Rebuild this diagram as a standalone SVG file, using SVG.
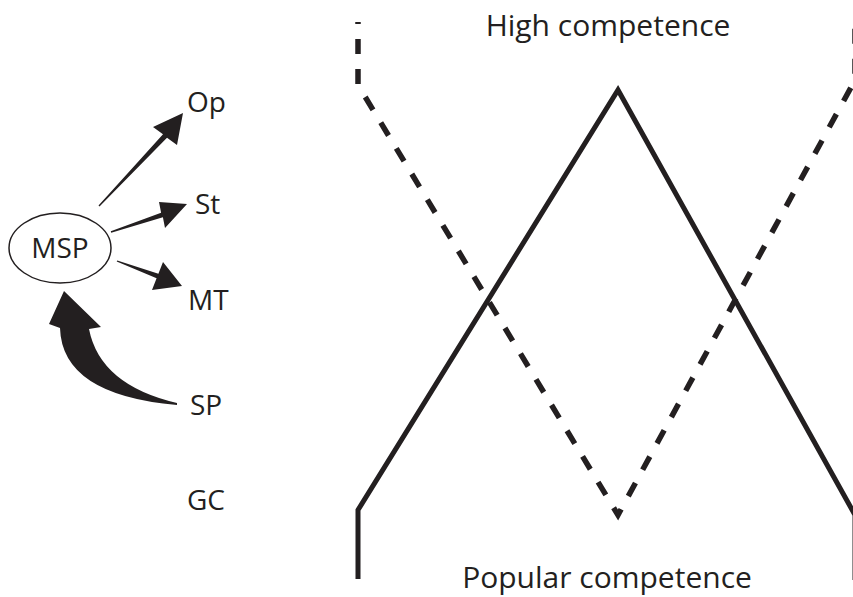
<svg xmlns="http://www.w3.org/2000/svg" width="853" height="597" viewBox="0 0 853 597">
<style>
  .lbl { font-family: "Open Sans", "Liberation Sans", sans-serif; font-size: 28px; fill: #231f20; }
  .ttl { font-family: "Open Sans", "Liberation Sans", sans-serif; font-size: 30px; fill: #231f20; }
  .solid { fill: none; stroke: #231f20; stroke-width: 5; stroke-linejoin: miter; }
  .dash { fill: none; stroke: #231f20; stroke-width: 5.5; stroke-dasharray: 15 15; stroke-dashoffset: 13; }
  .arr { fill: #231f20; stroke: none; }
</style>
<rect width="853" height="597" fill="#ffffff"/>
<g id="curves">
  <path class="dash" d="M358,22 L358,85 L618,515 L855,80 L855,22"/>
  <path class="solid" d="M358,579 L358,510 L618,90 L855,515 L855,580"/>
</g>
<g id="node-msp">
  <ellipse cx="60" cy="248" rx="51" ry="35" fill="#ffffff" stroke="#231f20" stroke-width="1.5"/>
  <text class="lbl" x="60" y="258" text-anchor="middle">MSP</text>
</g>
<g id="node-op"><text class="lbl" x="187" y="112">Op</text></g>
<g id="node-st"><text class="lbl" x="195" y="214">St</text></g>
<g id="node-mt"><text class="lbl" x="188" y="310">MT</text></g>
<g id="node-sp"><text class="lbl" x="190" y="415">SP</text></g>
<g id="node-gc"><text class="lbl" x="187" y="510">GC</text></g>
<g id="label-high"><text class="ttl" x="608" y="36" text-anchor="middle">High competence</text></g>
<g id="label-popular"><text class="ttl" x="607" y="588" text-anchor="middle">Popular competence</text></g>
<g id="connectors">
  <path class="arr" d="M98.5,205.5 L163,134.3 L153,127 L183,113 L177,145 L167,137.7 L99.5,206.5 Z"/>
  <path class="arr" d="M110.8,231.3 L161.1,212.7 L159,202 L187,204 L165,228 L162.9,217.3 L111.2,232.7 Z"/>
  <path class="arr" d="M117.3,260.4 L158.4,273.7 L163,262 L182,286 L152,290 L156.6,278.3 L116.7,261.6 Z"/>
  <path class="arr" d="M177,405 Q62,395 60,328 L49,324 L64,291 L101,327 L89,329 Q100,385 177,403 Z"/>
</g>
</svg>
